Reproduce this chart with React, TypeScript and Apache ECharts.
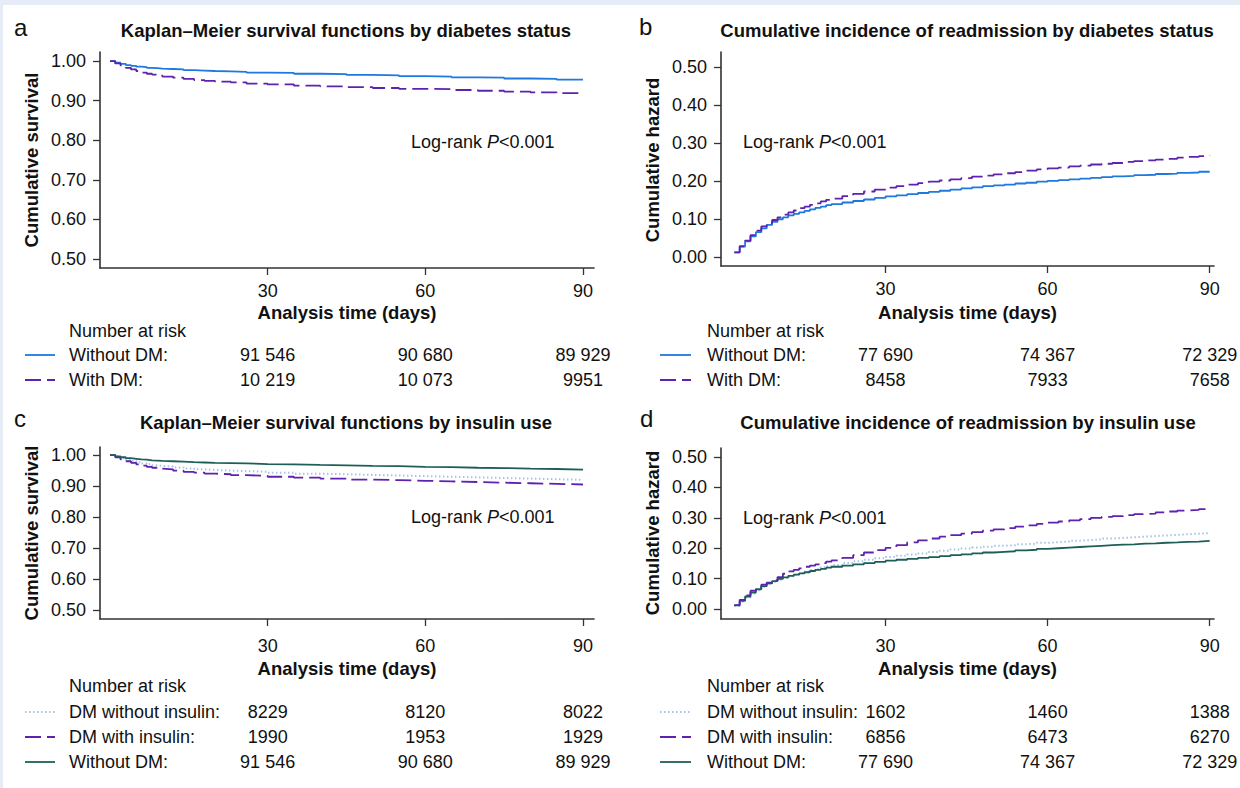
import React, { useEffect, useRef } from "react";
import * as echarts from "echarts";

// ---------- data ----------
const kmDays = [0, 1, 2, 3, 4, 5, 6, 7, 8, 9, 10, 12, 14, 16, 18, 20, 23, 26, 30, 35, 40, 45, 50, 55, 60, 65, 70, 75, 80, 85, 90];
const survWithoutDM = [1.0, 0.996, 0.993, 0.99, 0.988, 0.986, 0.985, 0.983, 0.982, 0.981, 0.98, 0.979, 0.977, 0.976, 0.975, 0.974, 0.973, 0.971, 0.97, 0.968, 0.967, 0.965, 0.964, 0.962, 0.961, 0.959, 0.958, 0.956, 0.955, 0.953, 0.952];
const survWithDM = [1.0, 0.994, 0.989, 0.983, 0.979, 0.975, 0.971, 0.968, 0.966, 0.963, 0.961, 0.958, 0.955, 0.952, 0.95, 0.948, 0.946, 0.943, 0.941, 0.938, 0.936, 0.934, 0.932, 0.93, 0.929, 0.927, 0.925, 0.923, 0.921, 0.919, 0.917];
const survDMNoInsulin = [1.0, 0.995, 0.99, 0.985, 0.981, 0.977, 0.973, 0.97, 0.967, 0.965, 0.963, 0.96, 0.957, 0.954, 0.952, 0.95, 0.948, 0.946, 0.943, 0.94, 0.938, 0.936, 0.934, 0.932, 0.93, 0.928, 0.926, 0.924, 0.922, 0.92, 0.919];
const survDMInsulin = [1.0, 0.993, 0.986, 0.98, 0.975, 0.97, 0.966, 0.962, 0.959, 0.956, 0.954, 0.95, 0.946, 0.943, 0.94, 0.938, 0.935, 0.933, 0.93, 0.927, 0.924, 0.921, 0.919, 0.917, 0.915, 0.913, 0.911, 0.909, 0.907, 0.905, 0.903];

const hazDays = [2, 3, 4, 5, 6, 7, 8, 9, 10, 11, 12, 13, 14, 15, 16, 17, 18, 19, 20,
  22, 24, 26, 28, 30, 32, 34, 36, 38, 40, 42, 44, 46, 48, 50, 52, 54, 56, 58, 60,
  62, 64, 66, 68, 70, 72, 74, 76, 78, 80, 82, 84, 86, 88, 90];
const hazWithoutDM = [0.012, 0.027, 0.041, 0.054, 0.065, 0.075, 0.084, 0.092, 0.099, 0.104, 0.109, 0.113, 0.117, 0.121, 0.125, 0.129, 0.132, 0.136, 0.139,
  0.143, 0.147, 0.151, 0.155, 0.159, 0.162, 0.165, 0.168, 0.171, 0.174, 0.177, 0.18, 0.183, 0.186, 0.188, 0.19, 0.193, 0.195, 0.198, 0.2,
  0.202, 0.204, 0.206, 0.208, 0.21, 0.212, 0.213, 0.215, 0.216, 0.218, 0.219, 0.221, 0.222, 0.224, 0.225];
const hazWithDM = [0.012, 0.028, 0.043, 0.057, 0.069, 0.08, 0.089, 0.097, 0.104, 0.111, 0.117, 0.122, 0.128, 0.132, 0.137, 0.141, 0.146, 0.15, 0.153,
  0.16, 0.166, 0.172, 0.177, 0.182, 0.186, 0.19, 0.194, 0.198, 0.201, 0.204, 0.207, 0.211, 0.214, 0.217, 0.22, 0.223, 0.227, 0.23, 0.233,
  0.235, 0.238, 0.24, 0.243, 0.245, 0.247, 0.25, 0.252, 0.254, 0.256, 0.258, 0.261, 0.263, 0.265, 0.267];
const hazDMNoInsulin = [0.01, 0.024, 0.038, 0.051, 0.062, 0.072, 0.081, 0.089, 0.096, 0.102, 0.108, 0.113, 0.118, 0.123, 0.128, 0.132, 0.137, 0.141, 0.145,
  0.151, 0.157, 0.162, 0.167, 0.171, 0.175, 0.179, 0.183, 0.188, 0.192, 0.196, 0.199, 0.202, 0.205, 0.208, 0.21, 0.213, 0.215, 0.218, 0.22,
  0.222, 0.225, 0.227, 0.229, 0.232, 0.234, 0.236, 0.238, 0.24, 0.242, 0.244, 0.246, 0.248, 0.25, 0.251];
const hazDMInsulin = [0.013, 0.03, 0.045, 0.06, 0.072, 0.08, 0.087, 0.094, 0.105, 0.116, 0.124, 0.129, 0.134, 0.139, 0.143, 0.147, 0.151, 0.156, 0.16,
  0.168, 0.177, 0.186, 0.194, 0.201, 0.21, 0.219, 0.226, 0.232, 0.238, 0.243, 0.248, 0.253, 0.258, 0.262, 0.266, 0.271, 0.275, 0.28, 0.284,
  0.288, 0.292, 0.296, 0.3, 0.303, 0.306, 0.309, 0.312, 0.314, 0.318, 0.321, 0.324, 0.326, 0.329, 0.331];

const xTicks = [30, 60, 90];
const survTicks = [0.5, 0.6, 0.7, 0.8, 0.9, 1.0];
const hazTicks = [0.0, 0.1, 0.2, 0.3, 0.4, 0.5];

const titles = [
  "Kaplan\u2013Meier survival functions by diabetes status",
  "Cumulative incidence of readmission by diabetes status",
  "Kaplan\u2013Meier survival functions by insulin use",
  "Cumulative incidence of readmission by insulin use",
];
const panelLetters = ["a", "b", "c", "d"];
const yNames = ["Cumulative survival", "Cumulative hazard", "Cumulative survival", "Cumulative hazard"];
const xName = "Analysis time (days)";

const riskLabelsDM = ["Without DM:", "With DM:"];
const riskLabelsIns = ["DM without insulin:", "DM with insulin:", "Without DM:"];
const riskValuesA = [["91 546", "90 680", "89 929"], ["10 219", "10 073", "9951"]];
const riskValuesB = [["77 690", "74 367", "72 329"], ["8458", "7933", "7658"]];
const riskValuesC = [["8229", "8120", "8022"], ["1990", "1953", "1929"], ["91 546", "90 680", "89 929"]];
const riskValuesD = [["1602", "1460", "1388"], ["6856", "6473", "6270"], ["77 690", "74 367", "72 329"]];

// ---------- styles / layout ----------
const FONT = "'Liberation Sans', Arial, Helvetica, sans-serif";
const BLUE = "#1f78e0";
const PURPLE = "#5e22b0";
const TEAL = "#1d5f58";
const LIGHT = "#a3c4ea";
const AXIS = "#333333";
const TXT = "#111111";

const styleSolidBlue = { color: BLUE, type: "solid" as any, width: 1.8 };
const styleDash = { color: PURPLE, type: [16, 6] as any, width: 1.8 };
const styleTeal = { color: TEAL, type: "solid" as any, width: 1.8 };
const styleDot = { color: LIGHT, type: [1.5, 2.5] as any, width: 2 };

const grids = [
  { left: 100, top: 52, width: 494, height: 216 },
  { left: 721, top: 52, width: 493, height: 214 },
  { left: 100, top: 447, width: 494, height: 172 },
  { left: 721, top: 448, width: 493, height: 171 },
];
const xRanges = [[-1.9, 92.1], [-0.46, 90.8], [-1.9, 92.1], [-0.46, 90.8]];
const yRanges = [[0.477, 1.023], [-0.024, 0.539], [0.471, 1.026], [-0.033, 0.53]];
const yTickSets = [survTicks, hazTicks, survTicks, hazTicks];
const xLabelMargins = [14, 14, 18, 18];

function zip(xs: number[], ys: number[]) {
  return xs.map((x, i) => [x, ys[i]]);
}

function lineSeries(gi: number, xs: number[], ys: number[], ls: any, z: number) {
  return {
    type: "line",
    xAxisIndex: gi,
    yAxisIndex: gi,
    data: zip(xs, ys),
    step: "end",
    showSymbol: false,
    symbol: "none",
    silent: true,
    lineStyle: ls,
    z,
  };
}

export default function App() {
  const ref = useRef<HTMLDivElement>(null);
  useEffect(() => {
    if (!ref.current) return;
    const chart = echarts.init(ref.current, undefined, { renderer: "svg" });

    const xAxes = grids.map((_, gi) => ({
      type: "value",
      gridIndex: gi,
      min: xRanges[gi][0],
      max: xRanges[gi][1],
      axisLine: { show: true, onZero: false, lineStyle: { color: AXIS, width: 1.6 } },
      axisTick: { show: true, length: 7, customValues: xTicks, lineStyle: { color: AXIS, width: 1.3 } },
      axisLabel: {
        customValues: xTicks,
        margin: xLabelMargins[gi],
        color: TXT,
        fontSize: 18,
        fontFamily: FONT,
      },
      splitLine: { show: false },
    }));
    const yAxes = grids.map((_, gi) => ({
      type: "value",
      gridIndex: gi,
      min: yRanges[gi][0],
      max: yRanges[gi][1],
      axisLine: { show: true, onZero: false, lineStyle: { color: AXIS, width: 1.6 } },
      axisTick: { show: true, length: 7, customValues: yTickSets[gi], lineStyle: { color: AXIS, width: 1.3 } },
      axisLabel: {
        customValues: yTickSets[gi],
        margin: 14,
        color: TXT,
        fontSize: 18,
        fontFamily: FONT,
        formatter: (v: number) => v.toFixed(2),
      },
      splitLine: { show: false },
    }));

    const series = [
      lineSeries(0, kmDays, survWithoutDM, styleSolidBlue, 3),
      lineSeries(0, kmDays, survWithDM, styleDash, 4),
      lineSeries(1, hazDays, hazWithoutDM, styleSolidBlue, 3),
      lineSeries(1, hazDays, hazWithDM, styleDash, 4),
      lineSeries(2, kmDays, survDMNoInsulin, styleDot, 2),
      lineSeries(2, kmDays, survDMInsulin, styleDash, 3),
      lineSeries(2, kmDays, survWithoutDM, styleTeal, 4),
      lineSeries(3, hazDays, hazDMNoInsulin, styleDot, 2),
      lineSeries(3, hazDays, hazDMInsulin, styleDash, 4),
      lineSeries(3, hazDays, hazWithoutDM, styleTeal, 3),
    ];

    chart.setOption({
      animation: false,
      backgroundColor: "#ffffff",
      grid: grids.map((g) => ({ ...g, containLabel: false })),
      xAxis: xAxes,
      yAxis: yAxes,
      series,
    });

    // ---------- annotations ----------
    const g: any[] = [];
    g.push({ type: "rect", shape: { x: 0, y: 0, width: 1240, height: 5 }, style: { fill: "#e6ecf5" }, z: -10, silent: true });
    g.push({ type: "rect", shape: { x: 0, y: 0, width: 3, height: 788 }, style: { fill: "#e6ecf5" }, z: -10, silent: true });

    const textEl = (x: number, y: number, text: string, opts: any = {}) => ({
      type: "text",
      x,
      y,
      silent: true,
      rotation: opts.rotation || 0,
      style: {
        text,
        fill: TXT,
        fontFamily: FONT,
        fontSize: opts.fontSize || 18,
        fontWeight: opts.fontWeight || "normal",
        align: opts.align || "left",
        verticalAlign: "middle",
        rich: opts.rich,
      },
      z: 10,
    });

    const letterPos = [[14, 27], [639, 26], [14, 418], [640, 418]];
    const titlePos = [[346, 30], [967, 30], [346, 422], [968, 422]];
    const yNamePos = [[31, 160], [652, 160], [31, 533], [652, 533]];
    const xNameY = [312, 312, 668, 668];
    const logRankPos = [[411, 142], [743, 142], [411, 517], [743, 518]];
    const tableHeaderY = [331, 331, 686, 686];
    const tableRowY = [[355, 380], [355, 380], [712, 737, 762], [712, 737, 762]];
    const tableLabelX = [69, 707, 69, 707];
    const sampleX = [[25, 55], [660, 691], [25, 55], [660, 691]];
    const rowLabels = [riskLabelsDM, riskLabelsDM, riskLabelsIns, riskLabelsIns];
    const rowValues = [riskValuesA, riskValuesB, riskValuesC, riskValuesD];
    const rowStyles = [
      [styleSolidBlue, styleDash],
      [styleSolidBlue, styleDash],
      [styleDot, styleDash, styleTeal],
      [styleDot, styleDash, styleTeal],
    ];
    const rich = {
      n: { fontFamily: FONT, fontSize: 18, fill: TXT },
      i: { fontFamily: FONT, fontSize: 18, fill: TXT, fontStyle: "italic" },
    };

    for (let gi = 0; gi < 4; gi++) {
      g.push(textEl(letterPos[gi][0], letterPos[gi][1], panelLetters[gi], { fontSize: 24 }));
      g.push(textEl(titlePos[gi][0], titlePos[gi][1], titles[gi], { fontSize: 18.5, fontWeight: "bold", align: "center" }));
      g.push(textEl(yNamePos[gi][0], yNamePos[gi][1], yNames[gi], { fontSize: 18.5, fontWeight: "bold", align: "center", rotation: Math.PI / 2 }));
      const cx = (grids[gi].left + grids[gi].left + grids[gi].width) / 2;
      g.push(textEl(cx, xNameY[gi], xName, { fontSize: 18.5, fontWeight: "bold", align: "center" }));
      g.push(textEl(logRankPos[gi][0], logRankPos[gi][1], "{n|Log-rank }{i|P}{n|<0.001}", { rich }));
      g.push(textEl(tableLabelX[gi], tableHeaderY[gi], "Number at risk"));
      const tickPx = xTicks.map((v) => chart.convertToPixel({ xAxisIndex: gi } as any, v) as number);
      rowLabels[gi].forEach((lab, ri) => {
        const y = tableRowY[gi][ri];
        const st = rowStyles[gi][ri];
        g.push({
          type: "line",
          silent: true,
          shape: { x1: sampleX[gi][0], y1: y, x2: sampleX[gi][1], y2: y },
          style: {
            stroke: st.color,
            lineWidth: st.width,
            lineDash: Array.isArray(st.type) ? st.type : null,
          },
          z: 10,
        });
        g.push(textEl(tableLabelX[gi], y, lab));
        rowValues[gi][ri].forEach((val, vi) => {
          g.push(textEl(tickPx[vi], y, val, { align: "center" }));
        });
      });
    }

    chart.setOption({ graphic: g });

    return () => chart.dispose();
  }, []);

  return (
    <div
      ref={ref}
      style={{ position: "fixed", left: 0, top: 0, width: 1240, height: 788, background: "#fff" }}
    />
  );
}
